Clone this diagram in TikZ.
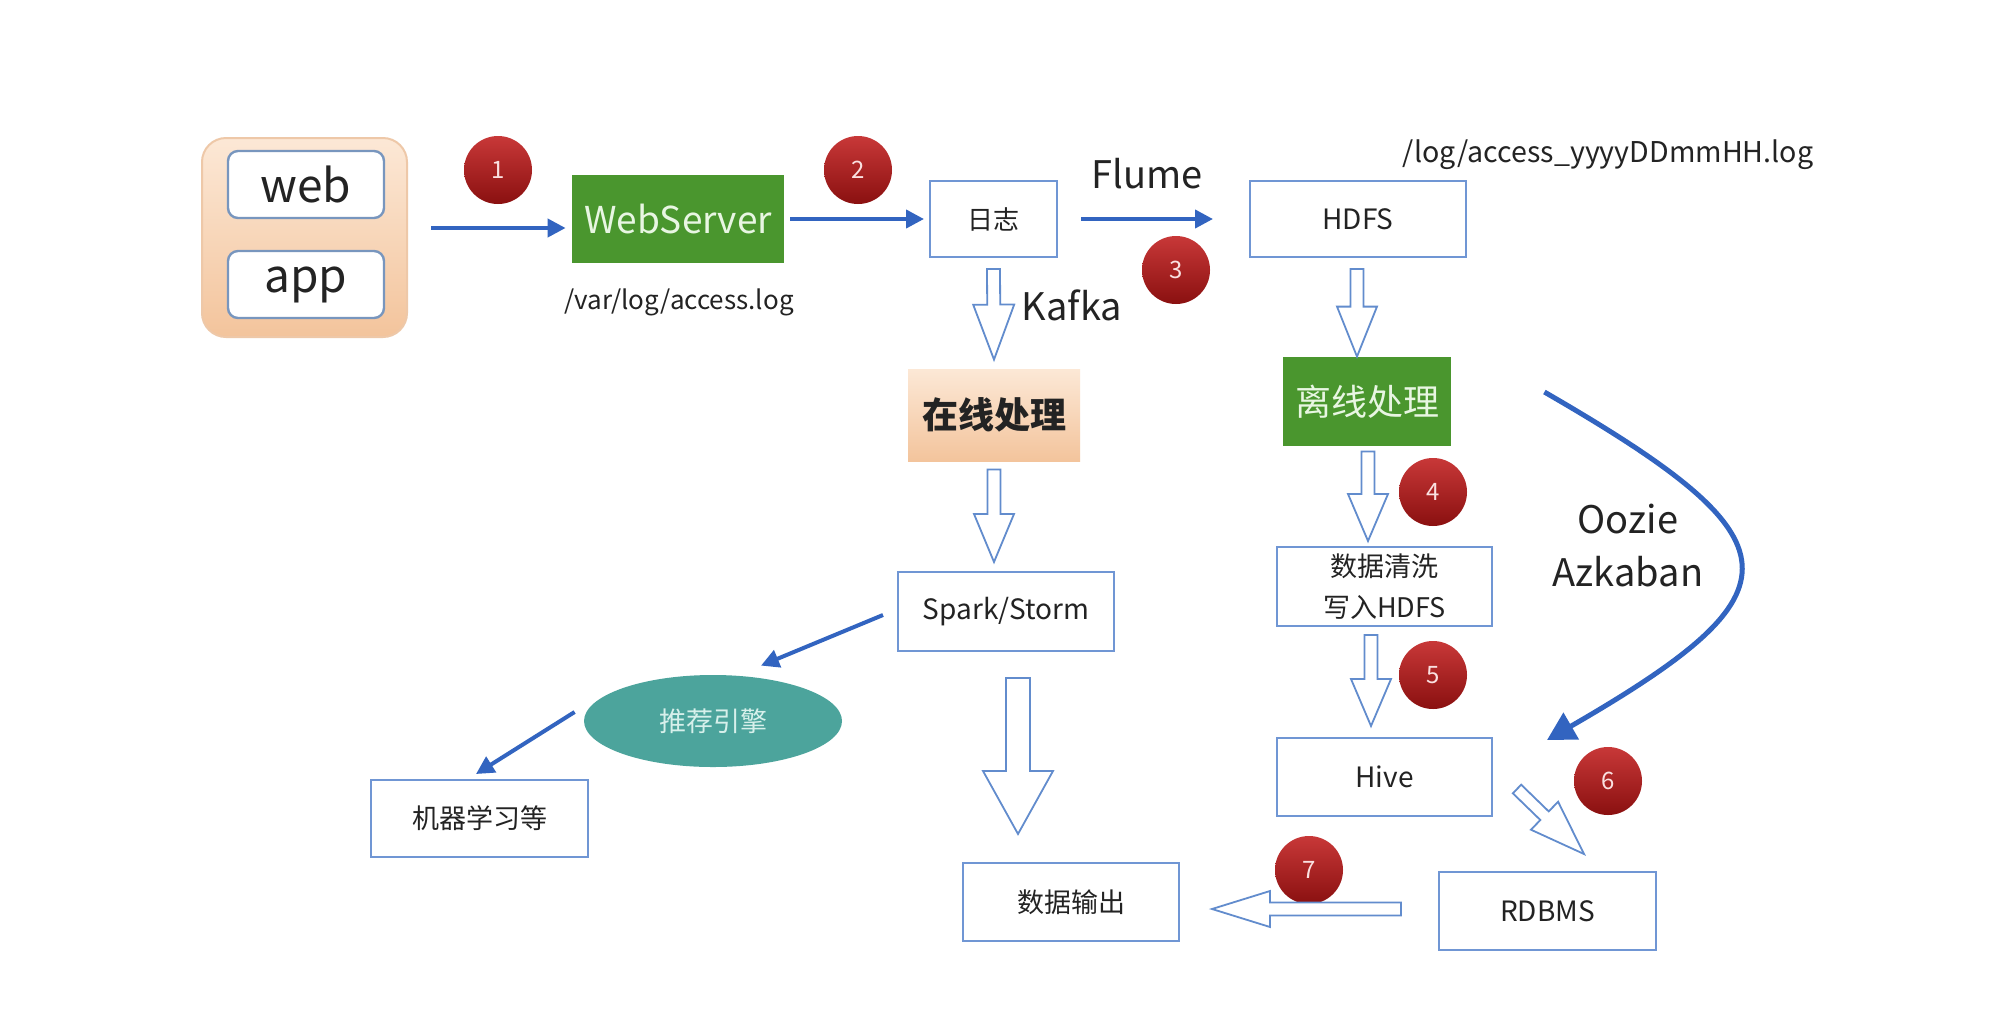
\documentclass[tikz,border=0pt]{standalone}
\usepackage{fontspec}
\setmainfont{Noto Sans CJK SC}
\usetikzlibrary{calc,arrows.meta,shapes.geometric}

\definecolor{boxblue}{RGB}{112,150,212}
\definecolor{webblue}{RGB}{120,150,190}
\definecolor{arrblue}{RGB}{50,100,192}
\definecolor{holblue}{RGB}{98,140,205}
\definecolor{wsgreen}{RGB}{74,150,46}
\definecolor{recteal}{RGB}{76,164,156}
\definecolor{txt}{RGB}{35,35,35}
\definecolor{lighttxt}{RGB}{232,246,226}
\definecolor{peachT}{RGB}{252,232,214}
\definecolor{peachB}{RGB}{243,196,156}
\definecolor{peachD}{RGB}{238,200,168}
\definecolor{redT}{RGB}{200,56,56}
\definecolor{redB}{RGB}{138,16,16}

\newcommand{\harrow}[5]{%
  \coordinate (hb) at ($(#2)!#5!(#1)$);
  \draw[hol] ($(#1)!#3!90:(#2)$) -- ($(hb)!#3!90:(#2)$) -- ($(hb)!#4!90:(#2)$)
    -- (#2) -- ($(hb)!#4!-90:(#2)$) -- ($(hb)!#3!-90:(#2)$) -- ($(#1)!#3!-90:(#2)$) -- cycle;
}

\tikzset{
  box/.style={draw=boxblue, line width=1pt, fill=white, inner sep=0pt, text=txt,
    font=\fontsize{14}{16}\selectfont},
  barrow/.style={draw=arrblue, line width=2pt, -{Triangle[length=9pt,width=9pt]}},
  hol/.style={draw=holblue, line width=0.9pt, fill=white, line join=miter},
  num/.style={circle, minimum size=34pt, inner sep=0pt, top color=redT, bottom color=redB,
    text={rgb,255:red,250;green,225;blue,225}, font=\fontsize{12}{12}\selectfont},
  lab/.style={text=txt, inner sep=0pt},
}

\begin{document}
\begin{tikzpicture}[x=0.5pt,y=-0.5pt]
\path[use as bounding box, fill=white] (0,0) rectangle (2008,1018);

% source box
\node[rounded corners=12pt, top color=peachT, bottom color=peachB, draw=peachD, line width=1pt,
  minimum width=102.5pt, minimum height=99.5pt] (outer) at (304.5,237.5) {};
\node[box, draw=webblue, line width=1.2pt, rounded corners=5pt, minimum width=78pt, minimum height=33.5pt,
  font=\fontsize{23}{25}\selectfont] (web) at (306,184.5) {web};
\node[box, draw=webblue, line width=1.2pt, rounded corners=5pt, minimum width=78pt, minimum height=33.5pt,
  font=\fontsize{23}{25}\selectfont] (app) at (306,284.5) {app};

% top row
\node[fill=wsgreen, minimum width=106pt, minimum height=44pt, inner sep=0pt, text=lighttxt,
  font=\fontsize{18.5}{20}\selectfont] (ws) at (678,219) {WebServer};
\node[lab, font=\fontsize{13}{15}\selectfont] (varlog) at (679,302) {/var/log/access.log};
\node[box, minimum width=63.5pt, minimum height=38pt, font=\fontsize{13}{15}\selectfont] (log) at (993.5,219) {日志};
\node[box, minimum width=108pt, minimum height=38pt] (hdfs) at (1358,219) {HDFS};
\node[lab, font=\fontsize{19}{21}\selectfont] (flume) at (1147,174) {Flume};
\node[lab, font=\fontsize{14.3}{17}\selectfont] (logpath) at (1608,155) {/log/access\_yyyyDDmmHH.log};
\node[lab, font=\fontsize{19}{21}\selectfont] (kafka) at (1072,305) {Kafka};

% processing
\node[top color=peachT, bottom color=peachB, minimum width=86pt, minimum height=46pt, inner sep=0pt,
  text=txt, font=\fontsize{18}{20}\selectfont\bfseries] (online) at (994,415) {在线处理};
\node[fill=wsgreen, minimum width=84pt, minimum height=44.5pt, inner sep=0pt, text=lighttxt,
  font=\fontsize{18}{20}\selectfont] (offline) at (1367,401.5) {离线处理};
\node[box, minimum width=108pt, minimum height=39.5pt] (spark) at (1006,611.5) {Spark/Storm};
\node[box, minimum width=107.5pt, minimum height=39.5pt, align=center,
  font=\fontsize{13.5}{20.5}\selectfont] (clean) at (1384.5,586.5) {数据清洗\\写入HDFS};
\node[box, minimum width=107.5pt, minimum height=39pt] (hive) at (1384.5,777) {Hive};
\node[box, minimum width=108.5pt, minimum height=39pt] (rdbms) at (1547.5,911) {RDBMS};
\node[box, minimum width=108pt, minimum height=39pt, font=\fontsize{13.5}{15}\selectfont] (output) at (1071,902) {数据输出};
\node[box, minimum width=108.5pt, minimum height=38.5pt, font=\fontsize{13.5}{15}\selectfont] (ml) at (479.5,818.5) {机器学习等};
\node[ellipse, fill=recteal, minimum width=129pt, minimum height=46pt, inner sep=0pt,
  text={rgb,255:red,215;green,240;blue,235}, font=\fontsize{13.5}{15}\selectfont] (rec) at (713,721) {推荐引擎};
\node[lab, align=center, font=\fontsize{19}{26.5}\selectfont] (oozie) at (1628,545.5) {Oozie\\Azkaban};

% numbered circles
\node[num] (c1) at (498,170) {1};
\node[num] (c2) at (858,170) {2};
\node[num] (c3) at (1176,270) {3};
\node[num] (c4) at (1433,492) {4};
\node[num] (c5) at (1433,675) {5};
\node[num] (c6) at (1608,781) {6};
\node[num] (c7) at (1309,870) {7};

% solid arrows
\draw[barrow] ([xshift=11.5pt,yshift=4.75pt]outer.east) -- ([xshift=-3pt,yshift=-4.5pt]ws.west);
\draw[barrow] ([xshift=3pt]ws.east) -- ([xshift=-2.5pt]log.west);
\draw[barrow] ([xshift=11.5pt]log.east) -- ([xshift=-18pt]hdfs.west);
\draw[barrow] ([xshift=-7pt,yshift=-1.75pt]spark.west) -- ([xshift=24pt,yshift=4.5pt]rec.north);
\draw[barrow] ([xshift=-4.5pt,yshift=4.5pt]rec.west) -- ([xshift=-1.75pt,yshift=2.5pt]ml.north);
\draw[draw=arrblue, line width=2.5pt, -{Triangle[length=14pt,width=15pt]}]
  ([xshift=46.5pt,yshift=4.75pt]offline.east) .. controls +(258,149) and +(258,-149) ..
  ([xshift=27pt,yshift=18.5pt]hive.east);

% hollow arrows
\coordinate (k1) at ([yshift=-5.5pt]log.south);
\coordinate (k2) at ([yshift=4.5pt]online.north);
\harrow{k1}{k2}{3.25pt}{10.25pt}{27.5pt}

\coordinate (d1) at ([xshift=-0.5pt,yshift=-5.5pt]hdfs.south);
\coordinate (d2) at (d1 |- offline.north);
\harrow{d1}{d2}{3.25pt}{10pt}{25pt}

\coordinate (o1) at ([yshift=-4pt]online.south);
\coordinate (o2) at ([yshift=4.5pt]o1 |- spark.north);
\harrow{o1}{o2}{3.25pt}{10pt}{24pt}

\coordinate (f1) at ([xshift=0.5pt,yshift=-2.5pt]offline.south);
\coordinate (f2) at ([yshift=2.5pt]f1 |- clean.north);
\harrow{f1}{f2}{3.25pt}{10pt}{23.5pt}

\coordinate (h1) at ([xshift=-6.75pt,yshift=-4pt]clean.south);
\coordinate (h2) at ([yshift=5.5pt]h1 |- hive.north);
\harrow{h1}{h2}{3.25pt}{10pt}{23.5pt}

\coordinate (s1) at ([xshift=6pt,yshift=-13pt]spark.south);
\coordinate (s2) at ([yshift=14pt]s1 |- output.north);
\harrow{s1}{s2}{6pt}{17.5pt}{31.5pt}

\coordinate (r1) at ([xshift=12pt,yshift=-6pt]hive.east);
\coordinate (r2) at ([xshift=18.25pt,yshift=8.5pt]rdbms.north);
\harrow{r1}{r2}{3pt}{9.75pt}{27.5pt}

\coordinate (q1) at ([xshift=-18.5pt,yshift=1pt]rdbms.west);
\coordinate (q2) at ([xshift=16pt]output.east |- q1);
\harrow{q1}{q2}{3.25pt}{9pt}{29pt}

\end{tikzpicture}
\end{document}
